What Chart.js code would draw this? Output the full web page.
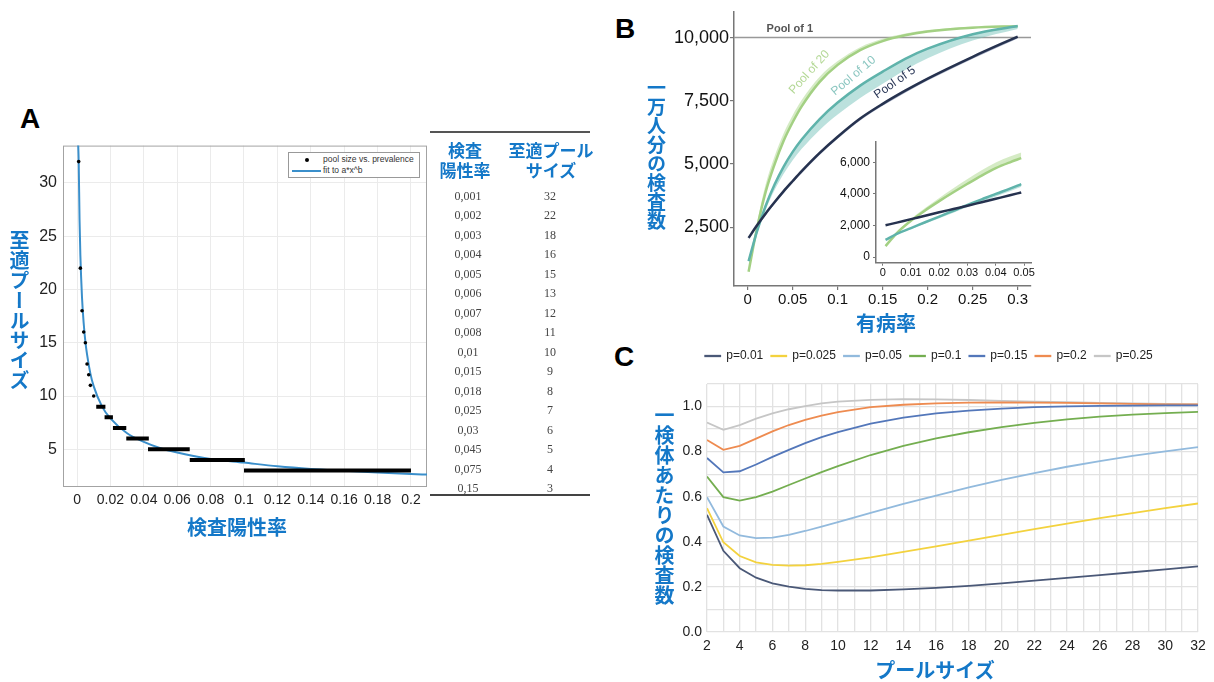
<!DOCTYPE html>
<html>
<head>
<meta charset="utf-8">
<script src="https://cdn.jsdelivr.net/npm/chart.js@4.4.1/dist/chart.umd.min.js"></script>
<style>
  body { margin: 0; background: #fff; }
  #page { position: relative; width: 1214px; height: 682px; overflow: hidden; font-family: 'Liberation Sans', Arial, sans-serif; }
  canvas, .abs { position: absolute; }
  .letter { position: absolute; font: bold 28px 'Liberation Sans', Arial, sans-serif; line-height: 28px; color: #000; }
  .ttl { position: absolute; color: #1478c8; font-weight: bold; font-family: 'Noto Sans CJK JP', sans-serif; font-size: 20px; line-height: 20px; white-space: nowrap; }
  .hc { transform: translateX(-50%); text-align: center; }
  .vt { writing-mode: vertical-rl; text-orientation: upright; }
  .row { position: absolute; font: 12px 'Liberation Serif', 'Times New Roman', serif; color: #444; line-height: 14px; transform: translateX(-50%); }
</style>
</head>
<body>
<div id="page">
  <div class="letter" style="left:20px;top:105px;">A</div>
  <div class="letter" style="left:615px;top:15px;">B</div>
  <div class="letter" style="left:614px;top:343px;">C</div>

  <canvas id="chartA" width="440" height="400" style="left:0;top:130px;"></canvas>
  <canvas id="chartB" width="440" height="312" style="left:600px;top:0;"></canvas>
  <canvas id="chartInset" width="240" height="162" style="left:800px;top:128px;"></canvas>
  <canvas id="chartC" width="554" height="322" style="left:660px;top:340px;"></canvas>

  <!-- panel A legend -->
  <div class="abs" style="left:288px;top:152px;width:130px;height:24px;border:1px solid #999;background:#fff;font-size:8.5px;color:#333;">
    <div class="abs" style="left:16px;top:4.5px;width:4px;height:4px;border-radius:2px;background:#000;"></div>
    <div class="abs" style="left:34px;top:1px;line-height:11px;">pool size vs. prevalence</div>
    <div class="abs" style="left:3px;top:16.5px;width:29px;height:2px;background:#3a8fcb;"></div>
    <div class="abs" style="left:34px;top:12px;line-height:11px;">fit to a*x^b</div>
  </div>

  <!-- table -->
  <div class="abs" style="left:430px;top:131px;width:160px;height:1.5px;background:#555;"></div>
  <div class="abs" style="left:430px;top:494px;width:160px;height:2px;background:#444;"></div>
  <div class="ttl hc" style="left:465px;top:140px;font-size:17px;">検査<br>陽性率</div>
  <div class="ttl hc" style="left:551px;top:140px;font-size:17px;">至適プール<br>サイズ</div>
  <div id="tableRows"></div>

  <!-- axis titles -->
  <div class="ttl hc" style="left:237px;top:517px;">検査陽性率</div>
  <div class="ttl vt" style="left:9px;top:230px;">至適プールサイズ</div>
  <div class="ttl hc" style="left:886px;top:313px;">有病率</div>
  <div class="ttl vt" style="left:647px;top:78px;font-size:19px;line-height:19px;">一万人分の検査数</div>
  <div class="ttl hc" style="left:935px;top:660px;">プールサイズ</div>
  <div class="ttl vt" style="left:654px;top:405px;">一検体あたりの検査数</div>
</div>

<script>
// ---------- panel A: optimal pool size vs. positivity rate ----------
const tablePrev = [0.001, 0.002, 0.003, 0.004, 0.005, 0.006, 0.007, 0.008, 0.01, 0.015, 0.018, 0.025, 0.03, 0.045, 0.075, 0.15];
const tablePool = [32, 22, 18, 16, 15, 13, 12, 11, 10, 9, 8, 7, 6, 5, 4, 3];

const stepFrom = [0.0115, 0.0165, 0.0215, 0.0295, 0.0425, 0.0675, 0.1];
const stepTo   = [0.017, 0.0215, 0.0295, 0.043, 0.0675, 0.1005, 0.2];
const stepPool = [9, 8, 7, 6, 5, 4, 3];

const fitX = [0.0006, 0.001, 0.0015, 0.002, 0.003, 0.004, 0.005, 0.006, 0.008, 0.01, 0.015, 0.02, 0.03, 0.04, 0.05, 0.06, 0.08, 0.1, 0.12, 0.14, 0.16, 0.18, 0.2, 0.21];
const fitY = [34, 32, 26.6, 23.2, 19.2, 16.8, 15.1, 13.9, 12.1, 10.9, 9.0, 7.9, 6.5, 5.7, 5.1, 4.7, 4.1, 3.75, 3.4, 3.15, 2.98, 2.82, 2.68, 2.62];

const xTicksA = [0, 0.02, 0.04, 0.06, 0.08, 0.1, 0.12, 0.14, 0.16, 0.18, 0.2];
const yTicksA = [5, 10, 15, 20, 25, 30];

// ---------- panel B: tests per 10,000 people vs. prevalence ----------
const bX       = [0.001, 0.01, 0.02, 0.03, 0.04, 0.05, 0.06, 0.08, 0.1, 0.125, 0.15, 0.175, 0.2, 0.25, 0.3];
const pool20   = [740, 2400, 3900, 5000, 5920, 6650, 7280, 8250, 8920, 9500, 9860, 10090, 10235, 10385, 10450];
const pool20Hi = [770, 2600, 4200, 5320, 6220, 6930, 7530, 8450, 9070, 9620, 9950, 10160, 10295, 10435, 10490];
const pool10   = [1160, 2300, 3350, 4200, 4900, 5480, 5970, 6780, 7430, 8100, 8650, 9160, 9560, 10130, 10455];
const pool10Lo = [1120, 2200, 3190, 3980, 4620, 5150, 5600, 6350, 6960, 7610, 8170, 8720, 9180, 9880, 10335];
const pool5    = [2080, 2560, 3050, 3500, 3930, 4330, 4720, 5440, 6080, 6800, 7380, 7900, 8380, 9240, 10040];
const pool5Lo  = [2000, 2480, 2970, 3420, 3850, 4250, 4640, 5360, 6000, 6720, 7300, 7820, 8300, 9160, 9960];
const pool1X = [-0.02, 0.32];
const pool1Y = [10000, 10000];
const xTicksB = [0, 0.05, 0.1, 0.15, 0.2, 0.25, 0.3];
const yTicksB = [2500, 5000, 7500, 10000];

// inset, prevalence 0 to 0.05
const iX        = [0.001, 0.005, 0.01, 0.015, 0.02, 0.025, 0.03, 0.035, 0.04, 0.045, 0.049];
const inset20   = [690, 1520, 2300, 2950, 3540, 4100, 4640, 5160, 5630, 6000, 6260];
const inset20Hi = [710, 1580, 2400, 3100, 3740, 4350, 4940, 5490, 5980, 6360, 6620];
const inset10   = [1080, 1470, 1830, 2200, 2560, 2930, 3300, 3650, 4000, 4330, 4620];
const inset10Lo = [1060, 1430, 1770, 2120, 2460, 2810, 3160, 3500, 3840, 4160, 4450];
const inset5    = [2010, 2180, 2400, 2610, 2830, 3040, 3250, 3470, 3690, 3910, 4090];
const xTicksI = [0, 0.01, 0.02, 0.03, 0.04, 0.05];
const yTicksI = [0, 2000, 4000, 6000];

// ---------- panel C: tests per specimen vs. pool size ----------
const poolSizes = [2, 3, 4, 5, 6, 7, 8, 9, 10, 12, 14, 16, 18, 20, 22, 24, 26, 28, 30, 32];
const p001  = [0.52, 0.36, 0.283, 0.241, 0.216, 0.201, 0.191, 0.186, 0.184, 0.184, 0.189, 0.196, 0.205, 0.216, 0.228, 0.240, 0.252, 0.265, 0.278, 0.291];
const p0025 = [0.549, 0.398, 0.337, 0.309, 0.298, 0.294, 0.296, 0.302, 0.311, 0.331, 0.355, 0.380, 0.405, 0.431, 0.456, 0.481, 0.505, 0.527, 0.549, 0.570];
const p005  = [0.598, 0.468, 0.428, 0.416, 0.419, 0.431, 0.448, 0.467, 0.487, 0.528, 0.568, 0.605, 0.641, 0.675, 0.705, 0.733, 0.758, 0.781, 0.801, 0.820];
const p01   = [0.690, 0.598, 0.583, 0.598, 0.623, 0.652, 0.681, 0.709, 0.736, 0.785, 0.826, 0.859, 0.886, 0.909, 0.928, 0.943, 0.955, 0.964, 0.971, 0.976];
const p015  = [0.772, 0.708, 0.713, 0.743, 0.777, 0.808, 0.838, 0.864, 0.887, 0.924, 0.951, 0.970, 0.982, 0.991, 0.997, 1.001, 1.003, 1.004, 1.005, 1.005];
const p02   = [0.852, 0.808, 0.826, 0.858, 0.890, 0.918, 0.941, 0.960, 0.975, 0.997, 1.008, 1.014, 1.017, 1.018, 1.017, 1.016, 1.014, 1.012, 1.010, 1.009];
const p025  = [0.929, 0.897, 0.918, 0.946, 0.970, 0.988, 1.002, 1.014, 1.022, 1.030, 1.033, 1.032, 1.029, 1.025, 1.022, 1.019, 1.016, 1.014, 1.012, 1.010];
const seriesLabels = ['p=0.01', 'p=0.025', 'p=0.05', 'p=0.1', 'p=0.15', 'p=0.2', 'p=0.25'];
const xTicksC = [2, 3, 4, 5, 6, 7, 8, 9, 10, 11, 12, 13, 14, 15, 16, 17, 18, 19, 20, 21, 22, 23, 24, 25, 26, 27, 28, 29, 30, 31, 32];
const yTicksC = [0, 0.1, 0.2, 0.3, 0.4, 0.5, 0.6, 0.7, 0.8, 0.9, 1.0, 1.1];

Chart.defaults.font.family = "'Liberation Sans', Arial, sans-serif";
Chart.defaults.color = '#222';
Chart.defaults.animation = false;

const pts = (xs, ys) => xs.map((x, i) => ({ x: x, y: ys[i] }));
const setTicks = vals => scale => { scale.ticks = vals.map(v => ({ value: v })); };

// table text
const rowsEl = document.getElementById('tableRows');
tablePrev.forEach((p, i) => {
  const y = 196 + i * 19.47 - 7;
  rowsEl.insertAdjacentHTML('beforeend',
    `<div class="row" style="left:468px;top:${y}px;">${String(p).replace('.', ',')}</div>` +
    `<div class="row" style="left:550px;top:${y}px;">${tablePool[i]}</div>`);
});

const boxBorder = {
  id: 'boxBorder',
  beforeDatasetsDraw(chart) {
    const { ctx, chartArea: a } = chart;
    ctx.save();
    ctx.strokeStyle = '#a3a3a3';
    ctx.lineWidth = 1;
    ctx.strokeRect(a.left + 0.5, a.top + 0.5, a.width - 1, a.height - 1);
    ctx.restore();
  }
};

// panel A
const dotN = tablePool.filter(v => v >= 10).length;
const stepData = [];
stepPool.forEach((v, i) => {
  stepData.push({ x: stepFrom[i], y: v }, { x: stepTo[i], y: v }, { x: stepTo[i], y: null });
});

new Chart(document.getElementById('chartA'), {
  type: 'line',
  data: {
    datasets: [
      { data: pts(tablePrev.slice(0, dotN), tablePool.slice(0, dotN)), showLine: false,
        pointRadius: 1.8, pointBackgroundColor: '#000', pointBorderWidth: 0 },
      { data: stepData, borderColor: '#000', borderWidth: 4, borderCapStyle: 'butt', pointRadius: 0, spanGaps: false },
      { data: pts(fitX, fitY), borderColor: '#3a8fcb', borderWidth: 2, pointRadius: 0, cubicInterpolationMode: 'monotone' }
    ]
  },
  options: {
    responsive: false,
    layout: { padding: { left: 0, right: 13, top: 13, bottom: 0 } },
    plugins: { legend: { display: false }, tooltip: { enabled: false } },
    scales: {
      x: {
        type: 'linear', min: -0.0084, max: 0.2096,
        afterBuildTicks: setTicks(xTicksA),
        afterFit: s => { s.height = 43; },
        grid: { color: '#ebebeb', drawTicks: false },
        border: { display: false },
        ticks: { font: { size: 14 }, padding: 5, callback: v => String(v) }
      },
      y: {
        min: 1.46, max: 33.5,
        afterBuildTicks: setTicks(yTicksA),
        afterFit: s => { s.width = 63; },
        grid: { color: '#ebebeb', drawTicks: false },
        border: { display: false },
        ticks: { font: { size: 16 }, padding: 6 }
      }
    }
  },
  plugins: [boxBorder]
});

// panel B
const poolLabels = [
  { text: 'Pool of 20', x: 0.0686, y: 8630, angle: -48, color: '#b3d895' },
  { text: 'Pool of 10', x: 0.1177, y: 8490, angle: -40, color: '#8ac6c0' },
  { text: 'Pool of 5', x: 0.1635, y: 8220, angle: -35, color: '#2b3858' }
];
const poolOneLabel = { text: 'Pool of 1', x: 0.021, y: 10320 };

const curveLabels = {
  id: 'curveLabels',
  afterDatasetsDraw(chart) {
    const { ctx, scales } = chart;
    ctx.save();
    ctx.font = '12px "Liberation Sans", Arial, sans-serif';
    ctx.textAlign = 'center';
    ctx.textBaseline = 'middle';
    poolLabels.forEach(l => {
      ctx.save();
      ctx.translate(scales.x.getPixelForValue(l.x), scales.y.getPixelForValue(l.y));
      ctx.rotate(l.angle * Math.PI / 180);
      ctx.fillStyle = l.color;
      ctx.fillText(l.text, 0, 0);
      ctx.restore();
    });
    ctx.font = 'bold 11px "Liberation Sans", Arial, sans-serif';
    ctx.textAlign = 'left';
    ctx.fillStyle = '#555';
    ctx.fillText(poolOneLabel.text, scales.x.getPixelForValue(poolOneLabel.x), scales.y.getPixelForValue(poolOneLabel.y));
    ctx.restore();
  }
};

const axisB = (extra) => Object.assign({
  grid: { display: true, drawOnChartArea: false, drawTicks: true, tickLength: 4, color: '#777', lineWidth: 1.2 },
  border: { display: true, color: '#777', width: 1.5 }
}, extra);

const lineDs = (xs, ys, color) => ({ data: pts(xs, ys), borderColor: color, borderWidth: 2.5, pointRadius: 0, cubicInterpolationMode: 'monotone', fill: false });
const bandDs = (xs, ys, color) => ({ data: pts(xs, ys), borderWidth: 0, borderColor: 'transparent', pointRadius: 0, cubicInterpolationMode: 'monotone', fill: '-1', backgroundColor: color });

new Chart(document.getElementById('chartB'), {
  type: 'line',
  data: {
    datasets: [
      lineDs(bX, pool5, '#26324f'),
      bandDs(bX, pool5Lo, 'rgba(50,70,120,0.45)'),
      lineDs(bX, pool10, '#5fb3ab'),
      bandDs(bX, pool10Lo, 'rgba(120,196,188,0.5)'),
      lineDs(bX, pool20, '#a3d083'),
      bandDs(bX, pool20Hi, 'rgba(178,218,150,0.55)'),
      { data: pts(pool1X, pool1Y), borderColor: '#999', borderWidth: 1.5, pointRadius: 0 }
    ]
  },
  options: {
    responsive: false,
    layout: { padding: { left: 0, right: 9, top: 9, bottom: 0 } },
    plugins: { legend: { display: false }, tooltip: { enabled: false } },
    scales: {
      x: axisB({
        type: 'linear', min: -0.0152, max: 0.3148,
        afterBuildTicks: setTicks(xTicksB),
        afterFit: s => { s.height = 26; },
        ticks: { font: { size: 15 }, color: '#111', padding: 1, callback: v => String(v) }
      }),
      y: axisB({
        min: 180, max: 11017,
        afterBuildTicks: setTicks(yTicksB),
        afterFit: s => { s.width = 134; },
        ticks: { font: { size: 18 }, color: '#111', padding: 1, callback: v => v.toLocaleString('en-US') }
      })
    }
  },
  plugins: [curveLabels]
});

new Chart(document.getElementById('chartInset'), {
  type: 'line',
  data: {
    datasets: [
      lineDs(iX, inset5, '#26324f'),
      lineDs(iX, inset10, '#5fb3ab'),
      bandDs(iX, inset10Lo, 'rgba(120,196,188,0.5)'),
      lineDs(iX, inset20, '#a3d083'),
      bandDs(iX, inset20Hi, 'rgba(178,218,150,0.55)')
    ]
  },
  options: {
    responsive: false,
    layout: { padding: { left: 0, right: 9, top: 14, bottom: 0 } },
    plugins: { legend: { display: false }, tooltip: { enabled: false } },
    scales: {
      x: axisB({
        type: 'linear', min: -0.00237, max: 0.05245,
        afterBuildTicks: setTicks(xTicksI),
        afterFit: s => { s.height = 27.3; },
        grid: { display: true, drawOnChartArea: false, drawTicks: true, tickLength: 3, color: '#777', lineWidth: 1 },
        ticks: { font: { size: 11 }, color: '#111', padding: 1, callback: v => String(v) }
      }),
      y: axisB({
        min: -361, max: 7286,
        afterBuildTicks: setTicks(yTicksI),
        afterFit: s => { s.width = 76; },
        grid: { display: true, drawOnChartArea: false, drawTicks: true, tickLength: 3, color: '#777', lineWidth: 1 },
        ticks: { font: { size: 12 }, color: '#111', padding: 3, callback: v => v.toLocaleString('en-US') }
      })
    }
  }
});

// panel C
const legendGap = {
  id: 'legendGap',
  beforeLayout(chart) {
    const lg = chart.legend;
    if (lg && !lg._gapPatched) {
      const fit = lg.fit;
      lg.fit = function () { fit.call(this); this.height += 12; };
      lg._gapPatched = true;
    }
  }
};

const seriesC = [p001, p0025, p005, p01, p015, p02, p025];
const colorsC = ['#4a5877', '#f3d23e', '#92badd', '#74ae50', '#5377ba', '#ee8b50', '#c6c6c6'];

new Chart(document.getElementById('chartC'), {
  type: 'line',
  data: {
    datasets: seriesC.map((ys, i) => ({
      label: seriesLabels[i],
      data: pts(poolSizes, ys),
      borderColor: colorsC[i],
      backgroundColor: colorsC[i],
      borderWidth: 1.8,
      pointRadius: 0,
      tension: 0
    }))
  },
  options: {
    responsive: false,
    layout: { padding: { left: 0, right: 16, top: 2, bottom: 0 } },
    plugins: {
      tooltip: { enabled: false },
      legend: {
        position: 'top',
        labels: { boxWidth: 15, boxHeight: 0.5, padding: 8, font: { size: 12 }, color: '#222' }
      }
    },
    scales: {
      x: {
        type: 'linear', min: 2, max: 32,
        afterBuildTicks: setTicks(xTicksC),
        afterFit: s => { s.height = 30; },
        grid: { color: '#e2e2e2', lineWidth: 1.3, drawTicks: false },
        border: { display: false },
        ticks: { font: { size: 14 }, padding: 6, autoSkip: false, maxRotation: 0, callback: v => (v % 2 === 0 ? String(v) : '') }
      },
      y: {
        min: 0, max: 1.1,
        afterBuildTicks: setTicks(yTicksC),
        afterFit: s => { s.width = 47; },
        grid: { color: '#e2e2e2', lineWidth: 1.3, drawTicks: false },
        border: { display: false },
        ticks: { font: { size: 14 }, padding: 5,
          callback: v => (Math.round(v * 10) % 2 === 0 && v < 1.05 ? v.toFixed(1) : '') }
      }
    }
  },
  plugins: [legendGap]
});
</script>
</body>
</html>
